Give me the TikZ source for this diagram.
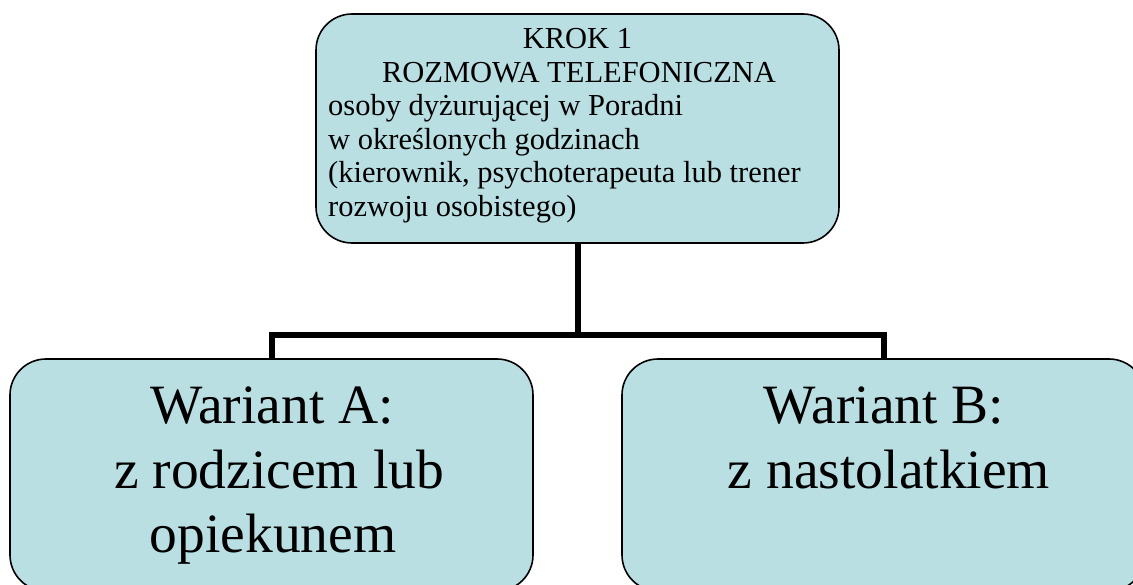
\documentclass[tikz,border=0pt]{standalone}
\usepackage{fontspec}
\setmainfont{Liberation Serif}
\definecolor{boxfill}{RGB}{185,223,227}
\tikzset{
  stepbox/.style={draw=black, line width=1.6pt, fill=boxfill,
    rounded corners=36pt, inner sep=0pt},
  conn/.style={draw=black, line width=6pt},
  small/.style={inner sep=0pt, font=\fontsize{30.5}{33.5}\selectfont},
  big/.style={inner sep=0pt, anchor=base, font=\fontsize{55.5}{65}\selectfont},
}
\begin{document}
\begin{tikzpicture}[x=1pt, y=-1pt]
  \useasboundingbox (0,0) rectangle (1133,585);
  \clip (0,0) rectangle (1133,585);

  % boxes
  \node[stepbox, minimum width=523pt, minimum height=229pt] (krok) at (577.5,128.5) {};
  \node[stepbox, minimum width=523pt, minimum height=232pt] (wa) at (271.5,475) {};
  \node[stepbox, minimum width=523pt, minimum height=232pt] (wb) at (883.5,475) {};

  % connectors
  \coordinate (bus) at (577.5,335);
  \draw[conn] (krok.south) -- (bus);
  \draw[conn] (wa.north) |- (bus) -| (wb.north);

  % text of the first step
  \node[small, anchor=base] (t1) at (577.5,49) {KROK 1};
  \node[small, anchor=base] (t2) at (579,83) {ROZMOWA TELEFONICZNA};
  \node[small, anchor=base west] (t3) at (328,116) {osoby dyżurującej w Poradni};
  \node[small, anchor=base west] (t4) at (328,150) {w określonych godzinach};
  \node[small, anchor=base west] (t5) at (328,183) {(kierownik, psychoterapeuta lub trener};
  \node[small, anchor=base west] (t6) at (328,217) {rozwoju osobistego)};

  % variant A
  \node[big] (a1) at (272,423) {Wariant A:};
  \node[big] (a2) at (279,488) {z rodzicem lub};
  \node[big] (a3) at (273,552) {opiekunem};

  % variant B
  \node[big] (b1) at (884,423) {Wariant B:};
  \node[big] (b2) at (889,488) {z nastolatkiem};
\end{tikzpicture}
\end{document}
